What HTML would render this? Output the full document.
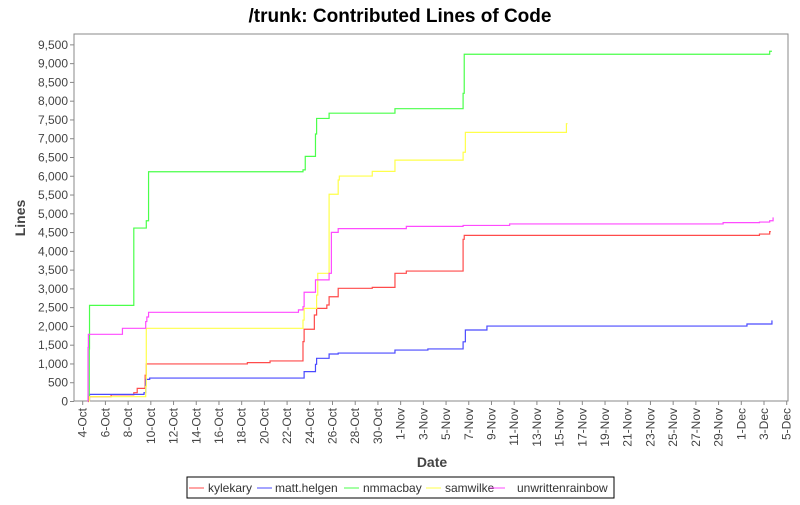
<!DOCTYPE html>
<html><head><meta charset="utf-8"><style>
body{margin:0;background:#fff;font-family:"Liberation Sans",sans-serif}
svg text{font-family:"Liberation Sans","DejaVu Sans",sans-serif}
</style></head><body>
<svg id="chart" width="800" height="500" xmlns="http://www.w3.org/2000/svg">
<rect width="800" height="500" fill="#fff"/>
<text x="400" y="22" text-anchor="middle" font-size="19" font-weight="bold" fill="#000">/trunk: Contributed Lines of Code</text>
<rect x="74" y="34" width="714" height="367" fill="#fff" stroke="#888" stroke-width="1"/>
<g id="yaxis"></g>
<g id="xaxis"></g>
<g id="series"></g>
<text transform="translate(25,218) rotate(-90)" text-anchor="middle" font-size="14" font-weight="bold" fill="#444">Lines</text>
<text x="432" y="467" text-anchor="middle" font-size="14" font-weight="bold" fill="#444">Date</text>
<g>
<rect x="187" y="477" width="427" height="21" fill="#fff" stroke="#000" stroke-width="1"/>
<g id="legend-items"></g>
</g>
</svg>
<script>
const seriesNames=["kylekary","matt.helgen","nmmacbay","samwilke","unwrittenrainbow"];
const seriesColors=["#ff4a4a","#4a4aff","#4aff4a","#ffff4a","#ff4aff"];
// day offsets from 4-Oct
const redDays=[0.45,0.5,2.5,4.5,4.8,5.5,5.6,14.5,16.5,19.4,19.5,20.4,20.6,21.5,21.7,22.5,25.5,27.5,28.5,33.5,33.6,59.6,60.5,60.6];
const redVals=[0,128,180,235,350,700,1000,1035,1080,1595,1925,2305,2480,2570,2790,3015,3040,3415,3475,4320,4425,4460,4525,4525];
const blueDays=[0.6,5.4,5.55,5.9,19.5,20.5,20.6,21.7,22.5,27.5,30.4,33.5,33.7,35.6,58.5,60.7,60.75];
const blueVals=[190,235,590,625,795,990,1150,1265,1290,1370,1400,1590,1905,2010,2065,2145,2145];
const greenDays=[0.58,0.6,4.5,5.6,5.8,19.4,19.6,20.5,20.6,21.7,27.5,33.5,33.6,60.5,60.7];
const greenVals=[1400,2560,4620,4815,6120,6170,6530,7125,7540,7680,7800,8210,9250,9330,9330];
const yellowDays=[0.6,5.55,5.6,19.4,19.5,20.6,20.7,21.7,22.5,22.6,25.5,27.5,33.5,33.7,42.6,42.7];
const yellowVals=[128,400,1950,2170,2480,2835,3415,5520,5900,6005,6130,6430,6640,7170,7400,7400];
const magentaDays=[0.47,0.5,3.5,5.55,5.65,5.8,19,19.4,19.5,20.5,21.7,21.9,22.5,28.5,33.5,37.6,56.4,59.6,60.5,60.8,60.85];
const magentaVals=[1440,1790,1950,2130,2250,2376,2440,2525,2910,3240,3415,4505,4605,4665,4690,4730,4765,4780,4815,4890,4890];
const yTicks=[0,500,1000,1500,2000,2500,3000,3500,4000,4500,5000,5500,6000,6500,7000,7500,8000,8500,9000,9500];
const xTickLabels=["4-Oct","6-Oct","8-Oct","10-Oct","12-Oct","14-Oct","16-Oct","18-Oct","20-Oct","22-Oct","24-Oct","26-Oct","28-Oct","30-Oct","1-Nov","3-Nov","5-Nov","7-Nov","9-Nov","11-Nov","13-Nov","15-Nov","17-Nov","19-Nov","21-Nov","23-Nov","25-Nov","27-Nov","29-Nov","1-Dec","3-Dec","5-Dec"];

const NS="http://www.w3.org/2000/svg";
const X=d=>82.7+d*11.355;
const Y=v=>401.5-v*0.03754;
function mk(t,a,p){const e=document.createElementNS(NS,t);for(const k in a)e.setAttribute(k,a[k]);p.appendChild(e);return e;}
const ya=document.getElementById('yaxis');
yTicks.forEach(v=>{
  const l=mk('line',{x1:70,x2:74,y1:Y(v),y2:Y(v),stroke:'#888'},ya);
  
  
  const t=mk('text',{x:68,y:Y(v)+4,'text-anchor':'end','font-size':12,fill:'#444'},ya);
  
  
  t.textContent=v.toLocaleString('en-US');
});
const xa=document.getElementById('xaxis');
xTickLabels.forEach((s,i)=>{
  const x=X(i*2);
  const l=mk('line',{x1:x,x2:x,y1:401,y2:405,stroke:'#888'},xa);
  
  
  const t=mk('text',{transform:`translate(${x+4},408) rotate(-90)`,'text-anchor':'end','font-size':12,fill:'#444'},xa);
  
  
  t.textContent=s;
});
const sg=document.getElementById('series');
const all=[[redDays,redVals],[blueDays,blueVals],[greenDays,greenVals],[yellowDays,yellowVals],[magentaDays,magentaVals]];
all.forEach(([ds,vs],k)=>{
  let d=`M${X(ds[0])},${Y(0)}`;
  for(let i=0;i<ds.length;i++){d+=` L${X(ds[i])},${Y(i?vs[i-1]:0)} L${X(ds[i])},${Y(vs[i])}`;}
  const p=mk('path',{d:d,fill:'none',stroke:seriesColors[k],'stroke-width':1.2},sg);
  
  
});
const li=document.getElementById('legend-items');
const lx=[189,257,344,426,490];
const tx=[208,275,363,445,517];
seriesNames.forEach((n,k)=>{
  const l=mk('line',{x1:lx[k],x2:lx[k]+15,y1:488,y2:488,stroke:seriesColors[k],'stroke-width':1},li);
  
  
  const t=mk('text',{x:tx[k],y:492,'font-size':12,fill:'#333'},li);
  
  
  t.textContent=n;
});
</script>
</body></html>
